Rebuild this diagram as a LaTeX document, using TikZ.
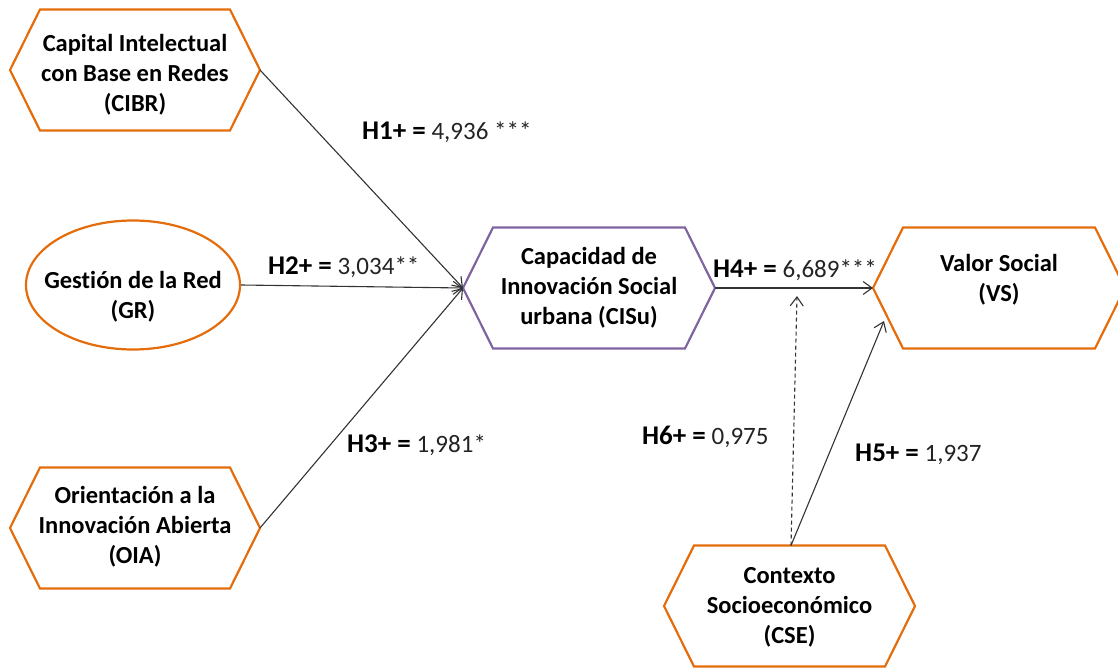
\documentclass[tikz,border=0pt]{standalone}
\usepackage{fontspec}
\setmainfont{Carlito}[Ligatures={NoCommon}]
\usetikzlibrary{arrows.meta,shapes.geometric}
\definecolor{hexorange}{RGB}{228,108,10}
\definecolor{hexpurple}{RGB}{128,100,162}
\definecolor{numgray}{RGB}{35,35,35}
\newcommand{\hyp}[2]{{\fontsize{27}{30}\selectfont\bfseries\color{black}#1} #2}
\begin{document}
\begin{tikzpicture}[x=1pt,y=-1pt,
  hexframe/.style={draw=none, inner sep=0pt, outer sep=0pt, minimum width=#1, minimum height=121pt},
  ovalframe/.style={ellipse, draw=hexorange, line width=2.2pt, inner sep=0pt, minimum width=214pt, minimum height=129pt},
  hexline/.style={line width=2.2pt, line join=miter},
  nodetext/.style={align=center, inner sep=0pt, font=\fontsize{24.5}{30}\selectfont\bfseries},
  hyplabel/.style={anchor=west, inner sep=0pt, font=\fontsize{25}{29}\selectfont, text=numgray},
  link/.style={line width=1.1pt, draw=black!80, -{Straight Barb[length=9pt,width=13pt,line width=1.1pt]}},
  weaklink/.style={link, dash pattern=on 4pt off 3pt}
]
\useasboundingbox (0,0) rectangle (1118,668);

% constructs
\node[hexframe=190pt, label={[nodetext, yshift=-5pt]center:{Capital Intelectual\\con Base en Redes\\(CIBR)}}] (cibr) at (135,70) {};
\node[ovalframe, label={[nodetext, yshift=-12pt]center:{Gesti\'on de la Red\\(GR)}}] (gr) at (133,285) {};
\node[hexframe=190pt, label={[nodetext, yshift=1pt]center:{Orientaci\'on a la\\Innovaci\'on Abierta\\(OIA)}}] (oia) at (135,528) {};
\node[hexframe=192pt, label={[nodetext, yshift=0pt]center:{Capacidad de\\Innovaci\'on Social\\urbana (CISu)}}] (cisu) at (589,288) {};
\node[hexframe=192pt, label={[nodetext, yshift=8pt]center:{Valor Social\\(VS)}}] (vs) at (999,288) {};
\node[hexframe=191pt, label={[nodetext, yshift=-1pt]center:{Contexto\\Socioecon\'omico\\(CSE)}}] (cse) at (789.5,606) {};

% hexagon outlines around the frames
\foreach \n/\c in {cibr/hexorange, oia/hexorange, cisu/hexpurple, vs/hexorange, cse/hexorange}{
  \draw[hexline, draw=\c] (\n.north west) -- (\n.north east) -- ([xshift=30pt]\n.east)
    -- (\n.south east) -- (\n.south west) -- ([xshift=-30pt]\n.west) -- cycle;
}

% tips and attachment points
\coordinate (cibr-r) at ([xshift=30pt]cibr.east);
\coordinate (oia-r)  at ([xshift=30pt]oia.east);
\coordinate (cisu-l) at ([xshift=-30pt]cisu.west);
\coordinate (cisu-r) at ([xshift=30pt]cisu.east);
\coordinate (vs-l)   at ([xshift=-30pt]vs.west);
\coordinate (vs-in)  at (884,321);
\coordinate (cse-t)  at ([xshift=1.5pt]cse.north);
\coordinate (h4-mid) at (797,296);

% paths
\draw[link] (cibr-r) -- (cisu-l);
\draw[link] (gr.east) -- (cisu-l);
\draw[link] (oia-r) -- (cisu-l);
\draw[link] (cisu-r) -- (vs-l);
\draw[link] (cse-t) -- (vs-in);
\draw[weaklink] (cse-t) -- (h4-mid);

% path coefficients
\node[hyplabel] (h1) at (362,132) {\hyp{H1+ =}{4,936 ***}};
\node[hyplabel] (h2) at (268,267) {\hyp{H2+ =}{3,034**}};
\node[hyplabel] (h3) at (347,445) {\hyp{H3+ =}{1,981*}};
\node[hyplabel] (h4) at (713,270) {\hyp{H4+ =}{6,689***}};
\node[hyplabel] (h6) at (642,437) {\hyp{H6+ =}{0,975}};
\node[hyplabel] (h5) at (855,454) {\hyp{H5+ =}{1,937}};
\end{tikzpicture}
\end{document}
